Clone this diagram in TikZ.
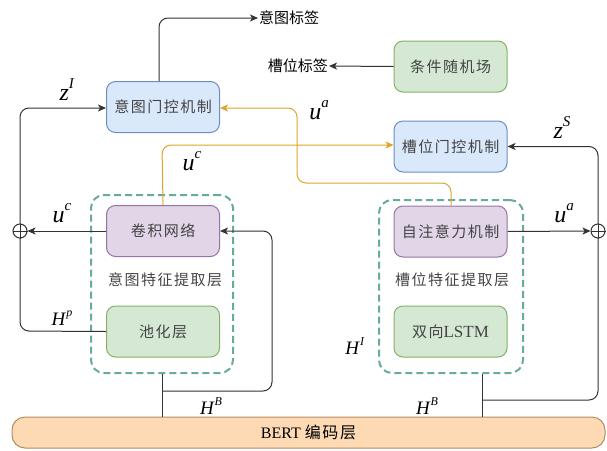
\documentclass[tikz,border=0pt]{standalone}
\usepackage{fontspec}
\setmainfont{Liberation Serif}
\newfontfamily\cjk[LetterSpace=10]{Noto Sans CJK SC}
\newfontfamily\cjkplain{Noto Sans CJK SC}
\usetikzlibrary{arrows.meta}
\definecolor{bluef}{HTML}{DAE8FC}
\definecolor{blued}{HTML}{6C8EBF}
\definecolor{greenf}{HTML}{D5E8D4}
\definecolor{greend}{HTML}{82B366}
\definecolor{purplef}{HTML}{E1D5E7}
\definecolor{purpled}{HTML}{9673A6}
\definecolor{orangef}{HTML}{FDDAB4}
\definecolor{oranged}{HTML}{B48C64}
\definecolor{teald}{HTML}{67AB9F}
\definecolor{goldl}{HTML}{E0A526}
\definecolor{edge}{HTML}{333333}
\definecolor{txt}{HTML}{444444}
\newcommand\biglbl[2]{\fontsize{24}{26}\selectfont\textit{#1}\raisebox{0.5em}{\fontsize{15}{15}\selectfont\textit{#2}}}
\newcommand\smlbl[2]{\fontsize{19}{21}\selectfont\textit{#1}\raisebox{0.5em}{\fontsize{12}{12}\selectfont\textit{#2}}}
\tikzset{
  box/.style={draw, line width=1pt, rounded corners=9pt, minimum width=113pt, minimum height=51pt, inner sep=0pt, font=\fontsize{15}{17}\selectfont\cjk, text=txt},
  bluebox/.style={box, fill=bluef, draw=blued},
  greenbox/.style={box, fill=greenf, draw=greend},
  purplebox/.style={box, fill=purplef, draw=purpled},
  container/.style={draw=teald, line width=2pt, dash pattern=on 7pt off 4pt, rounded corners=13pt},
  conn/.style={draw=edge, line width=1pt, rounded corners=9pt},
  arr/.style={conn, -{Stealth[length=8pt,width=7pt,inset=2pt]}},
  garr/.style={draw=goldl, line width=1pt, rounded corners=9pt, -{Stealth[length=8pt,width=7pt,inset=2pt]}},
  lab/.style={font=\fontsize{15}{17}\selectfont\cjkplain, text=black, inner sep=1pt},
  captext/.style={font=\fontsize{15}{17}\selectfont\cjk, text=txt, inner sep=1pt},
  mlab/.style={inner sep=0pt},
  plus/.style={circle, draw=edge, line width=1pt, fill=white, minimum size=14pt, inner sep=0pt},
}
\begin{document}
\begin{tikzpicture}[x=1pt, y=-1pt]
\useasboundingbox (0,0) rectangle (607,450);

% containers
\node[container, minimum width=142pt, minimum height=178pt] (lcont) at (162,284) {};
\node[container, minimum width=144pt, minimum height=173pt] (rcont) at (451,286.5) {};

% boxes
\node[bluebox] (igate) at (163,107) {意图门控机制};
\node[greenbox] (crf) at (450.5,66.5) {条件随机场};
\node[bluebox] (sgate) at (450.5,146.5) {槽位门控机制};
\node[purplebox] (cnn) at (163,231) {卷积网络};
\node[greenbox] (pool) at (163,331.5) {池化层};
\node[purplebox] (att) at (450.5,231.5) {自注意力机制};
\node[greenbox] (lstm) at (450.5,331.5) {\cjk 双向\rmfamily\fontsize{17}{19}\selectfont LSTM};
\node[draw=oranged, fill=orangef, line width=1pt, rounded corners=13pt, minimum width=593pt, minimum height=31pt, inner sep=0pt, font=\fontsize{16}{18}\selectfont] (bert) at (308.5,432.5) {BERT \cjk 编码层};

% container captions
\node[captext] (lcap) at (165,280) {意图特征提取层};
\node[captext] (rcap) at (452,280) {槽位特征提取层};

% output labels
\node[lab, anchor=west] (ilab) at (258,18) {意图标签};
\node[lab, anchor=east] (slab) at (329,66) {槽位标签};

% coordinates
\coordinate (lc1) at (20,331);
\coordinate (lc2) at (20,108);
\coordinate (rc1) at (598,400);
\coordinate (rc2) at (598,146.5);
\coordinate (lb) at (162,391);
\coordinate (lb2) at (272,391);
\coordinate (lb3) at (272,231);
\coordinate (rb) at (482,400);

% black connectors
\draw[arr] (igate.north -| 159,0) |- (ilab.west);
\draw[arr] (crf.west) -- (slab.east);
\draw[arr] (pool.west) -- (lc1) -- (lc2) -- (igate.west |- lc2);
\draw[arr] (rb) -- (rc1) -- (rc2) -- (sgate.east);
\draw[conn] (lcont.south -| lb) -- (lb |- bert.north);
\draw[arr] (lb) -- (lb2) -- (lb3) -- (cnn.east);
\draw[conn] (rcont.south -| rb) -- (rb |- bert.north);

% plus circles
\node[plus] (lplus) at (20,231) {};
\draw[edge, line width=1pt] (lplus.north) -- (lplus.south) (lplus.west) -- (lplus.east);
\node[plus] (rplus) at (598,231) {};
\draw[edge, line width=1pt] (rplus.north) -- (rplus.south) (rplus.west) -- (rplus.east);
\draw[arr] (cnn.west) -- (lplus.east);
\draw[arr] (att.east) -- (rplus.west);

% gold connectors
\draw[garr] (cnn.north) -- (162,145) -- (sgate.west |- 0,145);
\draw[garr] (att.north -| 451,0) -- (451,183) -- (297,183) -- (297,108) -- (igate.east |- 0,108);

% math labels
\node[mlab] (zI) at (67,90) {\biglbl{z}{I}};
\node[mlab] (zS) at (562,128) {\biglbl{z}{S}};
\node[mlab] (uc1) at (62,213) {\biglbl{u}{c}};
\node[mlab] (ua1) at (564,213) {\biglbl{u}{a}};
\node[mlab] (ua2) at (319,110) {\biglbl{u}{a}};
\node[mlab] (uc2) at (192,161) {\biglbl{u}{c}};
\node[mlab] (Hp) at (62,318) {\smlbl{H}{p}};
\node[mlab] (HB1) at (211,406) {\smlbl{H}{B}};
\node[mlab] (HB2) at (427,406) {\smlbl{H}{B}};
\node[mlab] (HI) at (355,346) {\smlbl{H}{I}};
\end{tikzpicture}
\end{document}
